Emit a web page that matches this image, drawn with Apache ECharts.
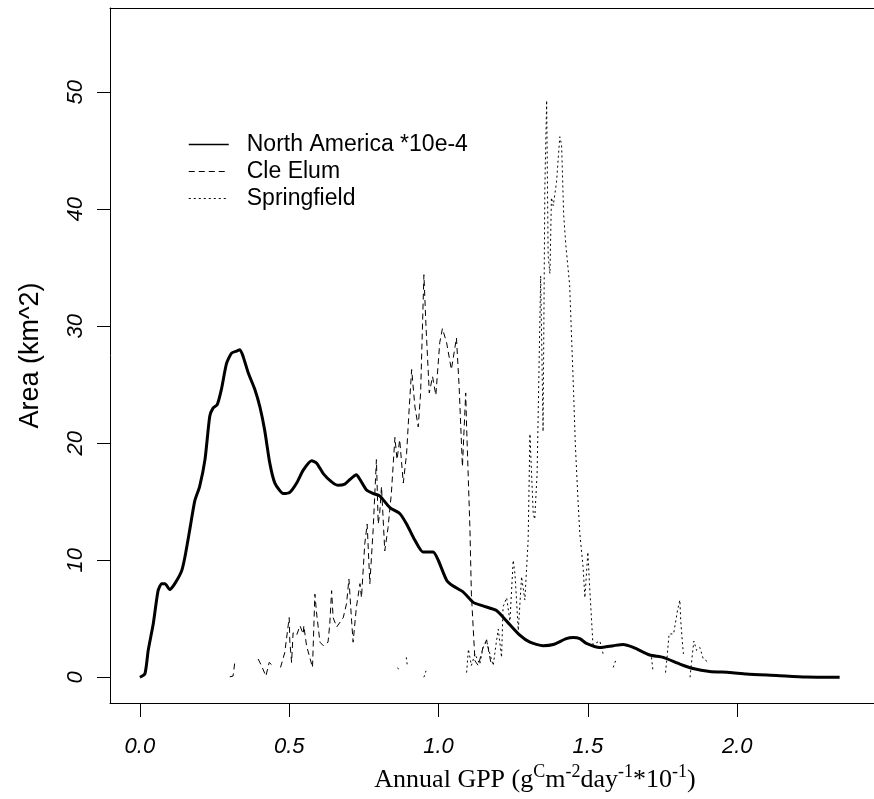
<!DOCTYPE html>
<html>
<head>
<meta charset="utf-8">
<script src="https://cdn.jsdelivr.net/npm/echarts@6/dist/echarts.min.js"></script>
<style>html,body{margin:0;padding:0;background:#fff;}#c{width:874px;height:799px;}</style>
</head>
<body>
<div id="c"></div>
<script>
// ---- data ----
var xTicks = [0, 0.5, 1.0, 1.5, 2.0];
var yTicks = [0, 10, 20, 30, 40, 50];
var seriesNames = ['North America *10e-4', 'Cle Elum', 'Springfield'];

var northAmerica = [
 [0,0],[0.017,0.3],[0.028,2.3],[0.045,4.6],[0.061,7.4],[0.073,8.0],[0.084,8.0],[0.1,7.5],[0.117,8.0],
 [0.14,9.1],[0.151,10.3],[0.167,12.6],[0.184,15.1],[0.2,16.3],[0.218,18.6],[0.234,22.3],[0.245,23.0],
 [0.259,23.3],[0.273,24.6],[0.29,26.8],[0.307,27.7],[0.326,27.9],[0.335,28.0],[0.346,27.4],[0.363,26.0],
 [0.385,24.6],[0.402,23.1],[0.418,21.1],[0.435,18.3],[0.452,16.6],[0.48,15.7],[0.502,15.8],[0.525,16.6],
 [0.547,17.7],[0.575,18.5],[0.592,18.3],[0.614,17.4],[0.642,16.7],[0.664,16.4],[0.686,16.5],[0.703,16.9],
 [0.725,17.3],[0.737,16.9],[0.759,16.0],[0.781,15.7],[0.803,15.5],[0.837,14.5],[0.87,14.0],[0.893,13.1],
 [0.921,11.7],[0.948,10.7],[0.982,10.7],[0.999,10.0],[1.027,8.3],[1.049,7.8],[1.082,7.3],[1.116,6.4],
 [1.149,6.1],[1.194,5.7],[1.228,4.8],[1.272,3.6],[1.306,3.0],[1.35,2.7],[1.384,2.8],[1.428,3.3],
 [1.451,3.4],[1.473,3.3],[1.495,2.9],[1.54,2.55],[1.585,2.7],[1.618,2.8],[1.652,2.55],[1.707,1.9],
 [1.752,1.7],[1.808,1.13],[1.852,0.75],[1.908,0.5],[1.975,0.41],[2.031,0.27],[2.132,0.15],[2.23,0.02],[2.343,0]
];

var cleElum = [
 [0.301,0.04],[0.312,0.1],[0.318,1.3],[0.32,null],
 [0.396,1.56],[0.407,1.0],[0.422,0.1],[0.433,1.27],[0.444,1.0],[0.45,null],
 [0.471,0.84],[0.485,2.1],[0.5,5.1],[0.502,3.1],[0.508,1.27],[0.513,3.8],[0.525,3.6],[0.536,4.4],
 [0.547,3.7],[0.549,4.4],[0.558,2.7],[0.578,0.84],[0.586,7.1],[0.592,5.4],[0.603,3.0],[0.614,2.7],
 [0.63,3.0],[0.636,4.6],[0.642,7.4],[0.647,5.1],[0.659,4.3],[0.681,5.1],[0.692,6.3],[0.7,8.4],
 [0.709,4.8],[0.714,3.0],[0.725,6.0],[0.737,8.0],[0.742,6.8],[0.753,11.4],[0.761,13.1],[0.77,8.0],
 [0.781,12.6],[0.792,18.6],[0.798,13.1],[0.803,14.0],[0.809,16.3],[0.82,10.8],[0.831,12.8],[0.842,15.7],
 [0.854,20.5],[0.861,18.6],[0.87,20.3],[0.882,16.6],[0.893,19.1],[0.902,23.1],[0.91,26.3],[0.921,23.1],
 [0.932,21.4],[0.94,24.3],[0.951,34.4],[0.958,30.0],[0.969,24.3],[0.98,25.7],[0.991,24.1],[1.004,28.6],
 [1.013,29.8],[1.027,28.6],[1.043,26.3],[1.06,29.0],[1.069,24.8],[1.08,18.0],[1.091,24.3],[1.094,21.4],
 [1.105,12.8],[1.11,7.1],[1.122,1.4],[1.133,1.0],[1.149,2.55],[1.161,3.2],[1.177,1.0]
];

var springfield = [
 [0.862,0.8],[0.867,0.7],[0.87,null],[0.892,1.7],[0.895,1.1],[0.9,null],[0.951,0.0],[0.958,0.55],[0.96,null],
 [1.094,0.4],[1.1,2.4],[1.11,1.0],[1.122,2.0],[1.138,1.1],[1.149,2.55],[1.161,3.1],[1.172,2.0],[1.183,1.0],
 [1.194,3.1],[1.2,4.1],[1.211,1.7],[1.216,6.0],[1.228,6.8],[1.239,4.8],[1.25,10.0],[1.256,8.8],[1.267,4.0],
 [1.278,8.6],[1.289,6.6],[1.3,11.7],[1.306,20.8],[1.317,14.0],[1.322,13.5],[1.33,17.4],[1.339,30.0],
 [1.342,34.3],[1.35,21.0],[1.356,42.0],[1.362,49.3],[1.367,36.0],[1.373,34.5],[1.378,41.0],[1.384,40.3],
 [1.395,42.3],[1.406,46.2],[1.412,45.5],[1.419,39.5],[1.426,37.0],[1.439,33.5],[1.452,24.5],[1.458,19.9],
 [1.467,15.1],[1.473,12.3],[1.484,9.4],[1.49,6.8],[1.5,10.7],[1.506,7.7],[1.517,2.8],[1.54,3.1],[1.551,2.0],
 [1.56,null],[1.585,0.84],[1.594,1.5],[1.6,null],[1.713,1.7],[1.718,0.55],[1.72,null],
 [1.76,0.4],[1.765,1.7],[1.772,3.7],[1.787,3.7],[1.8,5.7],[1.808,6.6],[1.811,4.8],[1.817,2.8],[1.82,2.0],
 [1.83,null],[1.842,0],[1.85,2.0],[1.855,3.1],[1.864,2.3],[1.875,2.55],[1.886,1.6],[1.902,1.3]
];

// ---- chart ----
var chart = echarts.init(document.getElementById('c'), null, {renderer: 'canvas'});
var sans = 'Liberation Sans, Arial, sans-serif';
var serif = 'Liberation Serif, Times New Roman, serif';
var X_MIN = -0.1, X_MAX = 2.458;

chart.setOption({
  animation: false,
  backgroundColor: '#fff',
  grid: {left: 110, top: 8, bottom: 96, right: 0, show: false, containLabel: false},
  legend: {
    orient: 'vertical', left: 188, top: 133, padding: 0, itemGap: 4,
    itemWidth: 40, itemHeight: 14,
    itemStyle: {opacity: 0},
    data: [
      {name: seriesNames[0], lineStyle: {width: 1.5}},
      {name: seriesNames[1], lineStyle: {width: 1}},
      {name: seriesNames[2], lineStyle: {width: 1}}
    ],
    formatter: function (n) { return '{t|' + n + '}'; },
    textStyle: {rich: {t: {fontFamily: sans, fontSize: 23, color: '#000', padding: [0, 0, 0, 13], lineHeight: 23}}}
  },
  xAxis: [{
    type: 'value', min: X_MIN, max: X_MAX, position: 'bottom',
    name: '{m|Annual GPP (g}{s|C}{m|m}{s|-2}{m|day}{s|-1}{m|*10}{s|-1}{m|)}',
    nameLocation: 'middle', nameGap: 58,
    nameTextStyle: {padding: [0, 0, 0, 86], rich: {
      m: {fontFamily: serif, fontSize: 26, color: '#000', lineHeight: 30, verticalAlign: 'bottom'},
      s: {fontFamily: serif, fontSize: 18, color: '#000', lineHeight: 30, verticalAlign: 'top'}
    }},
    axisLine: {show: true, onZero: false, lineStyle: {color: '#000', width: 1}},
    axisTick: {show: true, length: 14, lineStyle: {color: '#000'}, customValues: xTicks},
    axisLabel: {show: true, customValues: xTicks, margin: 33, color: '#000', fontFamily: sans, fontSize: 22, fontStyle: 'italic',
      formatter: function (v) { return v.toFixed(1); }},
    splitLine: {show: false}
  }, {
    type: 'value', min: X_MIN, max: X_MAX, position: 'top',
    axisLine: {show: true, onZero: false, lineStyle: {color: '#000', width: 1}},
    axisTick: {show: false}, axisLabel: {show: false}, splitLine: {show: false}
  }],
  yAxis: {
    type: 'value', min: -2.2, max: 57.2,
    name: 'Area (km^2)', nameLocation: 'middle', nameRotate: 90, nameGap: 66,
    nameTextStyle: {fontFamily: sans, fontSize: 27, color: '#000'},
    axisLine: {show: true, onZero: false, lineStyle: {color: '#000', width: 1}},
    axisTick: {show: true, length: 13, lineStyle: {color: '#000'}, customValues: yTicks},
    axisLabel: {show: true, customValues: yTicks, rotate: 90, margin: 23, color: '#000', fontFamily: sans, fontSize: 22, fontStyle: 'italic'},
    splitLine: {show: false}
  },
  series: [
    {name: seriesNames[0], type: 'line', data: northAmerica, showSymbol: false, symbol: 'none', connectNulls: false, smooth: 0.2,
      lineStyle: {color: '#000', width: 3, type: 'solid'}, itemStyle: {color: '#000'}},
    {name: seriesNames[1], type: 'line', data: cleElum, showSymbol: false, symbol: 'none', connectNulls: false,
      lineStyle: {color: '#000', width: 1, type: [6, 4]}, itemStyle: {color: '#000'}},
    {name: seriesNames[2], type: 'line', data: springfield, showSymbol: false, symbol: 'none', connectNulls: false,
      lineStyle: {color: '#000', width: 1, type: [2, 3]}, itemStyle: {color: '#000'}}
  ]
});
</script>
</body>
</html>
